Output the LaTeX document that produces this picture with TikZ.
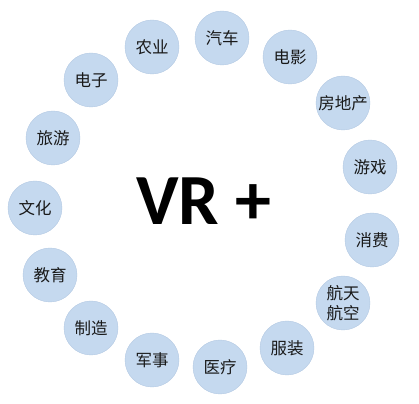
\documentclass[tikz,border=0pt]{standalone}
\usepackage{fontspec}
\usepackage{tikz}
\usetikzlibrary{positioning}
\newfontfamily\cjk{Noto Sans CJK SC}
\newfontfamily\vrfont{Carlito}
\definecolor{bubblue}{RGB}{197,217,239}
\definecolor{bubedge}{RGB}{178,200,226}

\begin{document}
\begin{tikzpicture}[x=1pt, y=1pt, bub/.style={circle, draw=bubedge, line width=0.4pt, fill=bubblue, minimum size=54pt, inner sep=0pt, text=black!90, align=center, font=\cjk\fontsize{16.5}{20}\selectfont}]
    \useasboundingbox (0,0) rectangle (419,403);
    \node[font=\vrfont\bfseries\fontsize{72}{72}\selectfont] (vr) at (204, 202) {VR +};
    \node[bub] (agri) at (152, 356) {农业};
    \node[bub] (car) at (222, 365) {汽车};
    \node[bub] (film) at (290, 346) {电影};
    \node[bub] (estate) at (343, 300) {房地产};
    \node[bub] (game) at (370, 236) {游戏};
    \node[bub] (consume) at (372, 163) {消费};
    \node[bub] (aero) at (343, 100) {航天\\航空};
    \node[bub] (cloth) at (287, 55) {服装};
    \node[bub] (medic) at (220, 36) {医疗};
    \node[bub] (army) at (152, 43) {军事};
    \node[bub] (manuf) at (91, 75) {制造};
    \node[bub] (edu) at (50, 128) {教育};
    \node[bub] (culture) at (35, 195) {文化};
    \node[bub] (travel) at (53, 265) {旅游};
    \node[bub] (elec) at (91, 323) {电子};
\end{tikzpicture}
\end{document}
